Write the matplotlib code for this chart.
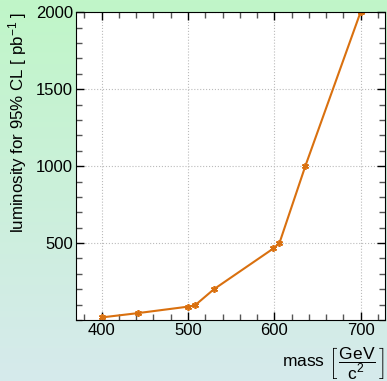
import numpy as np
import matplotlib
matplotlib.use("Agg")
import matplotlib.pyplot as plt
from matplotlib.ticker import MultipleLocator

plt.rcParams['font.family'] = ['Liberation Sans', 'DejaVu Sans']
plt.rcParams['mathtext.fontset'] = 'custom'
plt.rcParams['mathtext.rm'] = 'Liberation Sans'
plt.rcParams['mathtext.it'] = 'Liberation Sans'

# масса и светимость
mass = [400, 442, 500, 508, 530, 599, 606, 636, 700]
lumi = [17, 45, 87, 95, 200, 465, 500, 1000, 2000]

fig = plt.figure(figsize=(3.87, 3.81), dpi=100)

# градиентный фон
bg = fig.add_axes([0, 0, 1, 1], zorder=-1)
top = np.array([192, 246, 200]) / 255
bot = np.array([214, 234, 236]) / 255
t = np.linspace(0, 1, 256)[:, None]
grad = top[None, :] * (1 - t) + bot[None, :] * t
bg.imshow(grad[:, None, :], aspect='auto', extent=[0, 1, 0, 1])
bg.axis('off')

ax = fig.add_axes([0.196, 0.160, 0.798, 0.808])
ax.set_facecolor('white')
ax.plot(mass, lumi, color='#d9700f', lw=1.5, marker=(6, 2, 0), ms=5, mew=1.2)

ax.set_xlim(370, 728)
ax.set_ylim(0, 2000)
ax.set_xticks([400, 500, 600, 700])
ax.set_yticks([500, 1000, 1500, 2000])
ax.xaxis.set_minor_locator(MultipleLocator(20))
ax.yaxis.set_minor_locator(MultipleLocator(100))
ax.tick_params(which='both', direction='in', top=True, right=True, labelsize=12, colors='black')
ax.tick_params(which='major', length=6, width=1, pad=2)
ax.tick_params(which='minor', length=4, width=1, color='#555555')
ax.grid(True, which='major', ls=':', color='#bbbbbb', lw=0.8)

ax.set_ylabel('luminosity for 95% CL [ pb$^{\\mathregular{-1}}$ ]', fontsize=12.2, loc='top', labelpad=5)
ax.set_xlabel('mass $\\left[\\,\\dfrac{\\mathrm{GeV}}{\\mathrm{c}^{2}}\\,\\right]$', fontsize=12.5, loc='right', labelpad=6)

plt.savefig('out.png', dpi=100)
